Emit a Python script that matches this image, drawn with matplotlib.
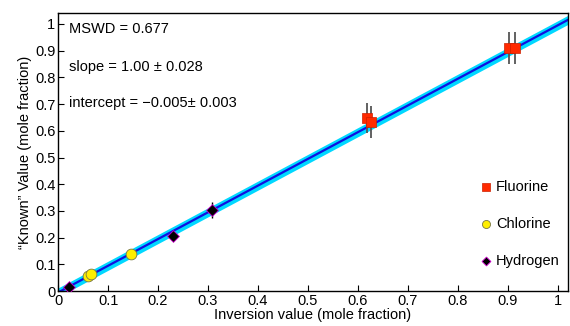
import matplotlib
matplotlib.use("Agg")
import matplotlib.pyplot as plt
import numpy as np

plt.rcParams['font.family'] = ['Liberation Sans', 'DejaVu Sans']

fl_x = [0.903, 0.914, 0.618, 0.627]
fl_y = [0.910, 0.910, 0.648, 0.633]
fl_err = [0.06, 0.06, 0.055, 0.06]

cl_x = [0.060, 0.066, 0.146]
cl_y = [0.058, 0.064, 0.139]

h_x = [0.022, 0.230, 0.308]
h_y = [0.016, 0.206, 0.305]
h_err = [0.01, 0.012, 0.03]

slope, intercept = 1.00, -0.005
band = 0.017

fig = plt.figure(figsize=(5.7, 3.26), dpi=100)
ax = fig.add_axes([0.102, 0.107, 0.894, 0.853])

xl = np.array([0, 1.02])
yl = slope * xl + intercept
ax.fill_between(xl, yl - band, yl + band, color='#00d8ff', lw=0, zorder=1)
ax.plot(xl, yl, color='#1010e0', lw=1.6, zorder=2)

ax.errorbar(h_x, h_y, yerr=h_err, fmt='none', ecolor='black', elinewidth=1, zorder=3)
ax.errorbar(fl_x, fl_y, yerr=fl_err, fmt='none', ecolor='#555555', elinewidth=1.3, zorder=3)

ax.scatter(fl_x, fl_y, marker='s', s=55, color='#ff2a00', edgecolor='#cc2000', lw=0.5, zorder=4, label='Fluorine')
ax.scatter(cl_x, cl_y, marker='o', s=60, color='#ffee00', edgecolor='#777744', lw=0.6, zorder=4, label='Chlorine')
ax.scatter(h_x, h_y, marker='D', s=36, color='black', edgecolor='#cc00cc', lw=0.6, zorder=5, label='Hydrogen')

ax.set_xlim(0, 1.02)
ax.set_ylim(0, 1.041)
ax.set_xticks(np.arange(0, 1.01, 0.1))
ax.set_xticklabels(['0', '0.1', '0.2', '0.3', '0.4', '0.5', '0.6', '0.7', '0.8', '0.9', '1'])
ax.set_yticks(np.arange(0, 1.01, 0.1))
ax.set_yticklabels(['0', '0.1', '0.2', '0.3', '0.4', '0.5', '0.6', '0.7', '0.8', '0.9', '1'])
ax.tick_params(direction='in', length=4, labelsize=10.5, pad=2)
for s in ax.spines.values():
    s.set_linewidth(1)

ax.set_xlabel('Inversion value (mole fraction)', fontsize=10.5, labelpad=0)
ax.set_ylabel('\u201cKnown\u201d Value (mole fraction)', fontsize=10.5, labelpad=2)

ax.text(0.022, 0.98, 'MSWD = 0.677', fontsize=10.5, va='center')
ax.text(0.022, 0.84, 'slope = 1.00 \u00b1 0.028', fontsize=10.5, va='center')
ax.text(0.022, 0.705, 'intercept = \u22120.005\u00b1 0.003', fontsize=10.5, va='center')

ax.legend(loc='lower right', bbox_to_anchor=(1.01, 0.035), frameon=False, fontsize=10.5,
          handletextpad=-0.1, handlelength=1.6, labelspacing=1.6, borderaxespad=0.5,
          markerscale=0.75)

fig.savefig('out.png', dpi=100)
